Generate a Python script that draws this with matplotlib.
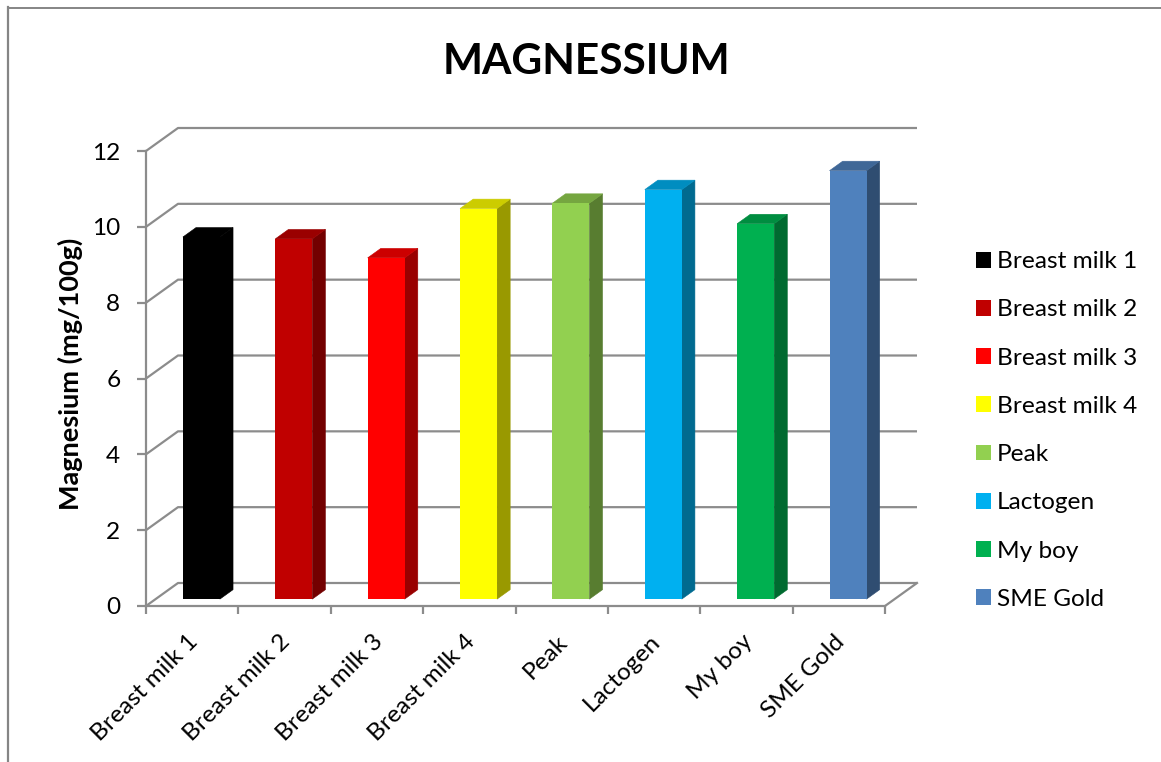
import matplotlib
matplotlib.use("Agg")
import matplotlib.pyplot as plt
from matplotlib.lines import Line2D
from matplotlib.patches import Polygon, Patch
from matplotlib.transforms import ScaledTranslation

categories = ["Breast milk 1", "Breast milk 2", "Breast milk 3", "Breast milk 4",
              "Peak", "Lactogen", "My boy", "SME Gold"]
values = [9.55, 9.5, 9.0, 10.3, 10.44, 10.8, 9.9, 11.3]
colors = ["#000000", "#C00000", "#FF0000", "#FFFF00",
          "#92D050", "#00B0F0", "#00B050", "#4F81BD"]
y_ticks = [0, 2, 4, 6, 8, 10, 12]

W, H = 1161, 762
GRID = "#8C8C8C"
plt.rcParams["font.family"] = ["Lato", "DejaVu Sans"]

fig = plt.figure(figsize=(W / 100, H / 100), dpi=100, facecolor="white")
left, right, top, bottom = 146, 885, 151, 606
ax = fig.add_axes([left / W, 1 - bottom / H, (right - left) / W, (bottom - top) / H])
n = len(categories)
ax.set_xlim(0, n)
ax.set_ylim(0, 12)
ax.patch.set_visible(False)

ux = (right - left) / n
uy = (bottom - top) / 12
DX, DY = 32 / ux, 23 / uy   # full floor depth in data units

# back wall, side wall and floor
for t in y_ticks:
    ax.plot([0, DX, n + DX], [t, t + DY, t + DY], color=GRID, lw=1.6,
            clip_on=False, zorder=1, solid_capstyle="butt")
ax.plot([n, n + DX], [0, DY], color=GRID, lw=1.6, clip_on=False, zorder=1)

# bars with depth
f0, f1 = 0.30, 0.71
width = 37 / ux
def shade(hexcol, k):
    r, g, b = matplotlib.colors.to_rgb(hexcol)
    return (r * k, g * k, b * k)

for i, (v, c) in enumerate(zip(values, colors)):
    x0 = i + 0.5 - width / 2 + f0 * DX - 0.004
    x1 = x0 + width
    y0 = f0 * DY
    y1 = v + y0
    ddx, ddy = (f1 - f0) * DX, (f1 - f0) * DY
    side, topc = shade(c, 0.6), shade(c, 0.8)
    ax.add_patch(Polygon([(x1, y0), (x1 + ddx, y0 + ddy), (x1 + ddx, y1 + ddy), (x1, y1)],
                         closed=True, fc=side, ec=side, lw=0.4, clip_on=False, zorder=3))
    ax.add_patch(Polygon([(x0, y1), (x1, y1), (x1 + ddx, y1 + ddy), (x0 + ddx, y1 + ddy)],
                         closed=True, fc=topc, ec=topc, lw=0.4, clip_on=False, zorder=3))
    ax.bar(x0, v, width=width, bottom=y0, align="edge", color=c, clip_on=False, zorder=4)

for s in ("top", "right"):
    ax.spines[s].set_visible(False)
for s in ("left", "bottom"):
    ax.spines[s].set_color(GRID)
    ax.spines[s].set_linewidth(1.6)
    ax.spines[s].set_zorder(2)

ax.set_yticks(y_ticks)
ax.tick_params(axis="y", length=6.5, width=1.6, color=GRID, labelsize=17.6, pad=12)
ax.set_xticks(range(n + 1))
ax.set_xticklabels([])
ax.tick_params(axis="x", which="major", length=6, width=1.6, color=GRID)
ax.set_xticks([i + 0.5 for i in range(n)], minor=True)
ax.set_xticklabels(categories, minor=True, rotation=45, ha="right", va="top",
                   rotation_mode="anchor", fontsize=17.6)
ax.tick_params(axis="x", which="minor", length=0, pad=18)
shift = ScaledTranslation(-5 / 100, 0, fig.dpi_scale_trans)
for lab in ax.get_xticklabels(minor=True):
    lab.set_transform(lab.get_transform() + shift)

ax.set_ylabel("Magnesium (mg/100g)", fontsize=19.5, fontweight="bold")
ax.yaxis.set_label_coords((83 - left) / (right - left), (bottom - 374) / (bottom - top))

fig.text(586 / W, 1 - 62 / H, "MAGNESSIUM", ha="center", va="center",
         fontsize=30.5, fontweight="bold", color="black")

handles = [Patch(fc=c, ec="none") for c in colors]
leg = fig.legend(handles, categories, loc="center left",
                 bbox_to_anchor=(954 / W, 1 - 430.5 / H), frameon=False, fontsize=17.6,
                 handlelength=0.62, handleheight=0.62, handletextpad=0.22,
                 labelspacing=1.113, borderpad=0.4)

fig.add_artist(Line2D([8 / W, 8 / W], [0, 1 - 7 / H], color="#858585", lw=1.6))
fig.add_artist(Line2D([7.5 / W, 1], [1 - 8 / H, 1 - 8 / H], color="#858585", lw=1.4))

fig.savefig("out.png", dpi=100, facecolor="white")
